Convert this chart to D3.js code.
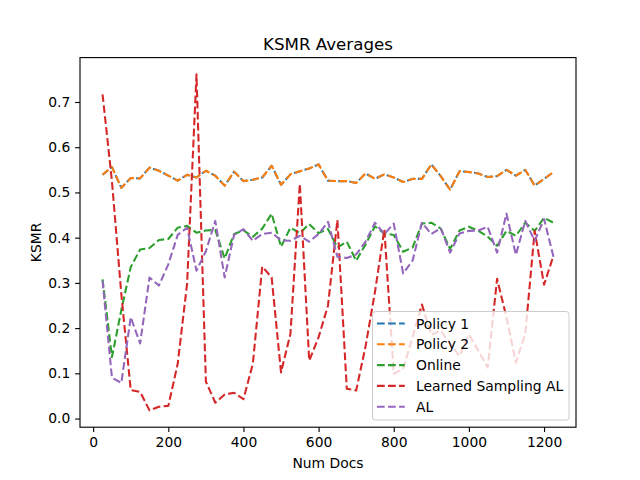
<!DOCTYPE html>
<html>
<head>
<meta charset="utf-8">
<script src="https://cdn.jsdelivr.net/npm/d3@7"></script>
<style>
  html, body { margin: 0; padding: 0; background: #fff; }
  svg text { font-family: "DejaVu Sans", sans-serif; }
</style>
</head>
<body>
<svg id="chart" width="640" height="480"></svg>
<script>
// ---- data ----
const numDocs = [25,50,75,100,125,150,175,200,225,250,275,300,325,350,375,400,425,450,475,500,
  525,550,575,600,625,650,675,700,725,750,775,800,825,850,875,900,925,950,975,1000,
  1025,1050,1075,1100,1125,1150,1175,1200,1225];

const policy1 = [0.539,0.556,0.510,0.532,0.531,0.555,0.548,0.537,0.526,0.539,0.533,0.548,0.537,0.515,0.546,0.525,
  0.528,0.533,0.559,0.517,0.540,0.547,0.553,0.562,0.526,0.525,0.525,0.521,0.542,0.530,0.540,0.533,0.523,0.530,
  0.530,0.562,0.536,0.506,0.547,0.545,0.542,0.534,0.536,0.550,0.537,0.550,0.515,0.530,0.545];

const policy2 = [0.539,0.556,0.510,0.532,0.531,0.555,0.548,0.537,0.526,0.539,0.533,0.548,0.537,0.515,0.546,0.525,
  0.528,0.533,0.559,0.517,0.540,0.547,0.553,0.562,0.526,0.525,0.525,0.521,0.542,0.530,0.540,0.533,0.523,0.530,
  0.530,0.562,0.536,0.506,0.547,0.545,0.542,0.534,0.536,0.550,0.537,0.550,0.515,0.530,0.545];

const online = [0.308,0.136,0.240,0.335,0.374,0.377,0.395,0.397,0.422,0.426,0.411,0.416,0.417,0.354,0.408,0.416,
  0.402,0.420,0.453,0.380,0.422,0.410,0.430,0.410,0.419,0.378,0.391,0.349,0.385,0.425,0.409,0.406,0.369,0.378,
  0.431,0.433,0.420,0.375,0.416,0.424,0.415,0.402,0.382,0.415,0.404,0.433,0.415,0.444,0.433];

const learnedAL = [0.717,0.525,0.275,0.063,0.059,0.018,0.026,0.028,0.121,0.298,0.761,0.082,0.035,0.053,0.057,0.043,
  0.121,0.336,0.312,0.102,0.187,0.519,0.128,0.180,0.250,0.439,0.066,0.062,0.160,0.280,0.418,0.099,0.110,0.180,
  0.252,0.185,0.195,0.165,0.138,0.186,0.150,0.113,0.309,0.224,0.124,0.187,0.415,0.296,0.360];

const al = [0.305,0.090,0.079,0.224,0.166,0.312,0.294,0.341,0.406,0.422,0.327,0.370,0.437,0.312,0.406,0.419,
  0.393,0.408,0.411,0.394,0.393,0.404,0.391,0.408,0.435,0.358,0.355,0.363,0.391,0.433,0.408,0.431,0.321,0.349,
  0.433,0.408,0.421,0.367,0.409,0.415,0.416,0.424,0.367,0.453,0.362,0.437,0.393,0.441,0.358];

const seriesNames = ["Policy 1", "Policy 2", "Online", "Learned Sampling AL", "AL"];
const seriesColors = ["#1f77b4", "#ff7f0e", "#2ca02c", "#d62728", "#9467bd"];
const xTicks = [0, 200, 400, 600, 800, 1000, 1200];
const yTicks = [0.0, 0.1, 0.2, 0.3, 0.4, 0.5, 0.6, 0.7];

(function () {
// ---- layout ----
const svg = d3.select("#chart");
const W = 640, H = 480;
const mL = 80, mR = 576, mT = 57.6, mB = 427.2;
const pt = 100 / 72;

const allSeries = [policy1, policy2, online, learnedAL, al];
const allVals = allSeries.flat();
const yMin = d3.min(allVals), yMax = d3.max(allVals);
const ySpan = yMax - yMin;
const xMin = d3.min(numDocs), xMax = d3.max(numDocs);
const xSpan = xMax - xMin;

const x = d3.scaleLinear().domain([xMin - 0.05 * xSpan, xMax + 0.05 * xSpan]).range([mL, mR]);
const y = d3.scaleLinear().domain([yMin - 0.05 * ySpan, yMax + 0.05 * ySpan]).range([mB, mT]);

svg.append("rect").attr("width", W).attr("height", H).attr("fill", "#fff");

svg.append("defs").append("clipPath").attr("id", "clip")
  .append("rect").attr("x", mL).attr("y", mT).attr("width", mR - mL).attr("height", mB - mT);

const dash = (3.7 * 1.5 * pt).toFixed(2) + "," + (1.6 * 1.5 * pt).toFixed(2);
const lw = 1.5 * pt;

const line = d3.line().x((d, i) => x(numDocs[i])).y(d => y(d));

const plot = svg.append("g").attr("clip-path", "url(#clip)");
allSeries.forEach((s, k) => {
  plot.append("path")
    .datum(s)
    .attr("d", line)
    .attr("fill", "none")
    .attr("stroke", seriesColors[k])
    .attr("stroke-width", lw)
    .attr("stroke-dasharray", dash)
    .attr("stroke-dashoffset", k === 0 ? 1.2 : 0)
    .attr("stroke-linejoin", "round");
});

// ---- axes ----
const tickLen = 3.5 * pt;
const fontSize = 10 * pt;

const xAxis = d3.axisBottom(x).tickValues(xTicks).tickFormat(d3.format("d"))
  .tickSizeInner(tickLen).tickSizeOuter(0).tickPadding(3.5 * pt);
const gx = svg.append("g").attr("transform", `translate(0,${mB})`).call(xAxis);
gx.select(".domain").remove();
gx.selectAll("line").attr("stroke", "#000").attr("stroke-width", 0.8 * pt);
gx.selectAll("text").attr("font-size", fontSize).attr("fill", "#000").attr("font-family", "DejaVu Sans");

const yAxis = d3.axisLeft(y).tickValues(yTicks).tickFormat(d3.format(".1f"))
  .tickSizeInner(tickLen).tickSizeOuter(0).tickPadding(3.5 * pt);
const gy = svg.append("g").attr("transform", `translate(${mL},0)`).call(yAxis);
gy.select(".domain").remove();
gy.selectAll("line").attr("stroke", "#000").attr("stroke-width", 0.8 * pt);
gy.selectAll("text").attr("font-size", fontSize).attr("fill", "#000").attr("font-family", "DejaVu Sans");

// spines
svg.append("rect")
  .attr("x", mL).attr("y", mT).attr("width", mR - mL).attr("height", mB - mT)
  .attr("fill", "none").attr("stroke", "#000").attr("stroke-width", 0.8 * pt);

// labels
svg.append("text").attr("x", (mL + mR) / 2).attr("y", 49.5)
  .attr("text-anchor", "middle").attr("font-size", 12 * pt).attr("fill", "#000")
  .text("KSMR Averages");
svg.append("text").attr("x", (mL + mR) / 2).attr("y", 467.5)
  .attr("text-anchor", "middle").attr("font-size", fontSize).attr("fill", "#000")
  .text("Num Docs");
svg.append("text")
  .attr("transform", `translate(40.5,${(mT + mB) / 2}) rotate(-90)`)
  .attr("text-anchor", "middle").attr("font-size", fontSize).attr("fill", "#000")
  .text("KSMR");

// ---- legend ----
const lgX = 372.5, lgY = 311.5, lgW = 196.5, lgH = 108.5;
const lg = svg.append("g");
lg.append("rect").attr("x", lgX).attr("y", lgY).attr("width", lgW).attr("height", lgH)
  .attr("rx", 2.8).attr("ry", 2.8)
  .attr("fill", "#fff").attr("fill-opacity", 0.8)
  .attr("stroke", "#cccccc").attr("stroke-width", 1);
seriesNames.forEach((name, k) => {
  const cy = 323.5 + k * 20.8;
  lg.append("line").attr("x1", 377).attr("x2", 404.8).attr("y1", cy).attr("y2", cy)
    .attr("stroke", seriesColors[k]).attr("stroke-width", lw).attr("stroke-dasharray", dash);
  lg.append("text").attr("x", 416).attr("y", cy).attr("dy", "0.36em")
    .attr("font-size", fontSize).attr("fill", "#000").text(name);
});
})();
</script>
</body>
</html>
